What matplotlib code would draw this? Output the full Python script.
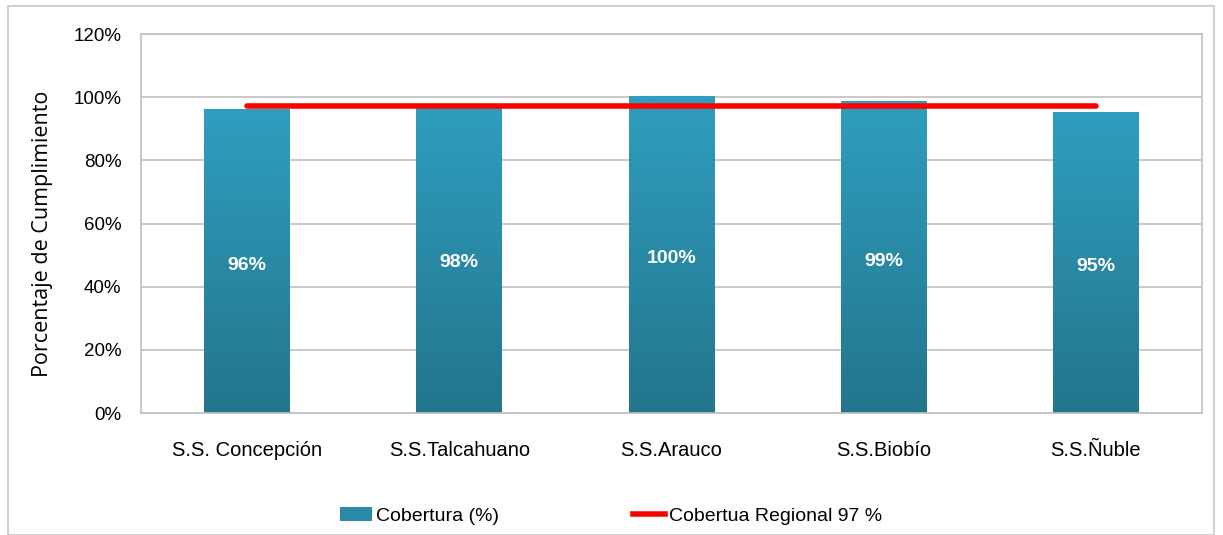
import matplotlib
matplotlib.use('Agg')
import matplotlib.pyplot as plt
import numpy as np
from matplotlib.patches import Rectangle
from matplotlib.lines import Line2D
from matplotlib.colors import LinearSegmentedColormap

categories = ['S.S. Concepción', 'S.S.Talcahuano', 'S.S.Arauco', 'S.S.Biobío', 'S.S.Ñuble']
cobertura = [96.2, 98.0, 100.3, 98.7, 95.2]
bar_labels = ['96%', '98%', '100%', '99%', '95%']
regional = 97.2
y_ticks = [0, 20, 40, 60, 80, 100, 120]

plt.rcParams['font.family'] = ['Liberation Sans', 'DejaVu Sans']

fig = plt.figure(figsize=(12.23, 5.35), dpi=100)
ax = fig.add_axes([0.1153, 0.228, 0.8675, 0.7084])

# outer chart border
fig.patches.append(Rectangle((8 / 1223, 0), 1206 / 1223, 1 - 6 / 535,
                             transform=fig.transFigure, fill=False,
                             edgecolor='#c8c8c8', linewidth=1.2))

x = np.arange(len(categories))
bars = ax.bar(x, cobertura, width=0.405, color='#2b8fae', zorder=2)

# vertical gradient on each bar
cmap = LinearSegmentedColormap.from_list('bar', ['#23758c', '#2f9ebf'])
grad = np.linspace(0, 1, 256).reshape(-1, 1)
for b in bars:
    x0, y0 = b.get_x(), b.get_y()
    w, h = b.get_width(), b.get_height()
    im = ax.imshow(grad, cmap=cmap, origin='lower', aspect='auto',
                   extent=[x0, x0 + w, y0, y0 + h], zorder=2.1)
    im.set_clip_path(b)

for xi, v, lab in zip(x, cobertura, bar_labels):
    ax.text(xi, v / 2 - 1.3, lab, ha='center', va='center', color='white',
            fontsize=14, fontweight='bold', zorder=4)

ax.plot(x, [regional] * len(x), color='#ff0000', linewidth=4,
        solid_capstyle='round', zorder=3)

ax.set_xlim(-0.5, len(categories) - 0.5)
ax.set_ylim(0, 120)
ax.set_yticks(y_ticks)
ax.set_yticklabels([f'{v}%' for v in y_ticks], fontsize=13.5)
ax.set_xticks(x)
ax.set_xticklabels(categories, fontsize=14.5)
ax.tick_params(axis='x', length=0, pad=20)
ax.tick_params(axis='y', length=0, pad=14)
ax.grid(axis='y', color='#c0c0c0', linewidth=1.2, zorder=0)
ax.set_axisbelow(True)
for s in ax.spines.values():
    s.set_color('#c0c0c0')
    s.set_linewidth(1.2)

ax.set_ylabel('Porcentaje de Cumplimiento', fontsize=15.5,
              family=['Open Sans', 'DejaVu Sans'])
ax.yaxis.set_label_coords(-0.083, 0.472)

# legend entries placed separately to match the wide spacing
leg_kw = dict(frameon=False, fontsize=14, handlelength=1.65, handletextpad=0.2,
              borderpad=0, borderaxespad=0, loc='center left')
fig.legend([Rectangle((0, 0), 1, 1, facecolor='#2a8aa7')], ['Cobertura (%)'],
           bbox_to_anchor=(340 / 1223, 0.035), **leg_kw)
fig.legend([Line2D([0], [0], color='#ff0000', linewidth=4)], ['Cobertua Regional 97 %'],
           bbox_to_anchor=(633 / 1223, 0.035), **leg_kw)

fig.savefig('out.png', dpi=100)
